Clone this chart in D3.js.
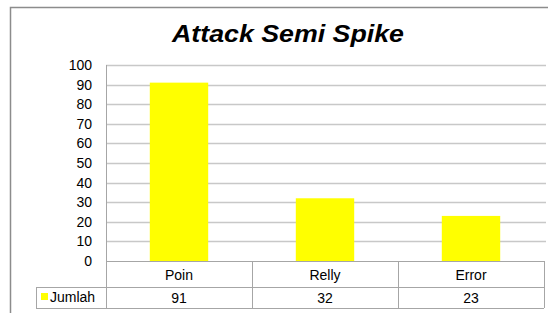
<!DOCTYPE html>
<html>
<head>
<meta charset="utf-8">
<script src="https://cdn.jsdelivr.net/npm/d3@7"></script>
<style>
  body { margin: 0; background: #fff; }
  svg { display: block; font-family: "Liberation Sans", Arial, sans-serif; }
</style>
</head>
<body>
<svg id="chart" width="548" height="313"></svg>
<script>
// chart data
const title = 'Attack Semi Spike';
const categories = ['Poin', 'Relly', 'Error'];
const values = [91, 32, 23];
const seriesName = 'Jumlah';
const yTicks = [0, 10, 20, 30, 40, 50, 60, 70, 80, 90, 100];

const svg = d3.select('#chart');
const plot = {left: 106, right: 544, top: 65, bottom: 261};
const table = {left: 36, row1: 287, bottom: 308};

// outer frame
svg.append('path')
  .attr('d', 'M10.5,313 V7.5 H548')
  .attr('fill', 'none')
  .attr('stroke', '#8c8c8c')
  .attr('stroke-width', 1.5);

// title (reference font is drawn wider than Liberation, so stretch the glyphs)
svg.append('text')
  .attr('x', 288)
  .attr('y', 41.5)
  .attr('text-anchor', 'middle')
  .attr('textLength', 232)
  .attr('lengthAdjust', 'spacingAndGlyphs')
  .style('font-size', '23px')
  .style('font-weight', 'bold')
  .style('font-style', 'italic')
  .text(title);

const x = d3.scaleBand().domain(categories).range([plot.left, plot.right]).padding(0);
const y = d3.scaleLinear().domain([0, 100]).range([plot.bottom, plot.top]);

// gridlines
svg.append('g')
  .selectAll('line')
  .data(yTicks.filter(d => d > 0))
  .enter()
  .append('line')
  .attr('x1', plot.left)
  .attr('x2', 546)
  .attr('y1', d => Math.round(y(d)) + 0.5)
  .attr('y2', d => Math.round(y(d)) + 0.5)
  .attr('stroke', '#c8c8c8')
  .attr('stroke-width', 1.5);

// y axis labels
svg.append('g')
  .selectAll('text')
  .data(yTicks)
  .enter()
  .append('text')
  .attr('x', 92)
  .attr('y', d => y(d) + 5)
  .attr('text-anchor', 'end')
  .style('font-size', '14px')
  .text(d => d);

// bars
svg.append('g')
  .selectAll('rect')
  .data(values)
  .enter()
  .append('rect')
  .attr('x', (d, i) => x(categories[i]) + x.bandwidth() * 0.3)
  .attr('width', x.bandwidth() * 0.4)
  .attr('y', d => y(d))
  .attr('height', d => y(0) - y(d))
  .attr('fill', '#ffff00');

// data table lines
const lineColor = '#a6a6a6';
const tbl = svg.append('g').attr('stroke', lineColor).attr('stroke-width', 1);
tbl.append('line').attr('x1', plot.left).attr('x2', plot.right).attr('y1', plot.bottom + 0.5).attr('y2', plot.bottom + 0.5);
tbl.append('line').attr('x1', table.left).attr('x2', plot.right).attr('y1', table.row1 + 0.5).attr('y2', table.row1 + 0.5);
tbl.append('line').attr('x1', table.left).attr('x2', plot.right).attr('y1', table.bottom + 0.5).attr('y2', table.bottom + 0.5);
tbl.append('line').attr('x1', table.left + 0.5).attr('x2', table.left + 0.5).attr('y1', table.row1).attr('y2', table.bottom);
tbl.append('line').attr('x1', plot.left + 0.5).attr('x2', plot.left + 0.5).attr('y1', plot.top).attr('y2', table.bottom);
tbl.selectAll('.sep')
  .data(categories)
  .enter()
  .append('line')
  .attr('class', 'sep')
  .attr('x1', d => Math.round(x(d) + x.bandwidth()) + 0.5)
  .attr('x2', d => Math.round(x(d) + x.bandwidth()) + 0.5)
  .attr('y1', plot.bottom)
  .attr('y2', table.bottom);

// category labels
svg.append('g')
  .selectAll('text')
  .data(categories)
  .enter()
  .append('text')
  .attr('x', d => x(d) + x.bandwidth() / 2)
  .attr('y', 280)
  .attr('text-anchor', 'middle')
  .style('font-size', '14px')
  .text(d => d);

// values row
svg.append('g')
  .selectAll('text')
  .data(values)
  .enter()
  .append('text')
  .attr('x', (d, i) => x(categories[i]) + x.bandwidth() / 2)
  .attr('y', 303)
  .attr('text-anchor', 'middle')
  .style('font-size', '14px')
  .text(d => d);

// legend key
svg.append('rect')
  .attr('x', 41)
  .attr('y', 293)
  .attr('width', 7)
  .attr('height', 7)
  .attr('fill', '#ffff00');
svg.append('text')
  .attr('x', 50)
  .attr('y', 302)
  .style('font-size', '14px')
  .text(seriesName);
</script>
</body>
</html>
